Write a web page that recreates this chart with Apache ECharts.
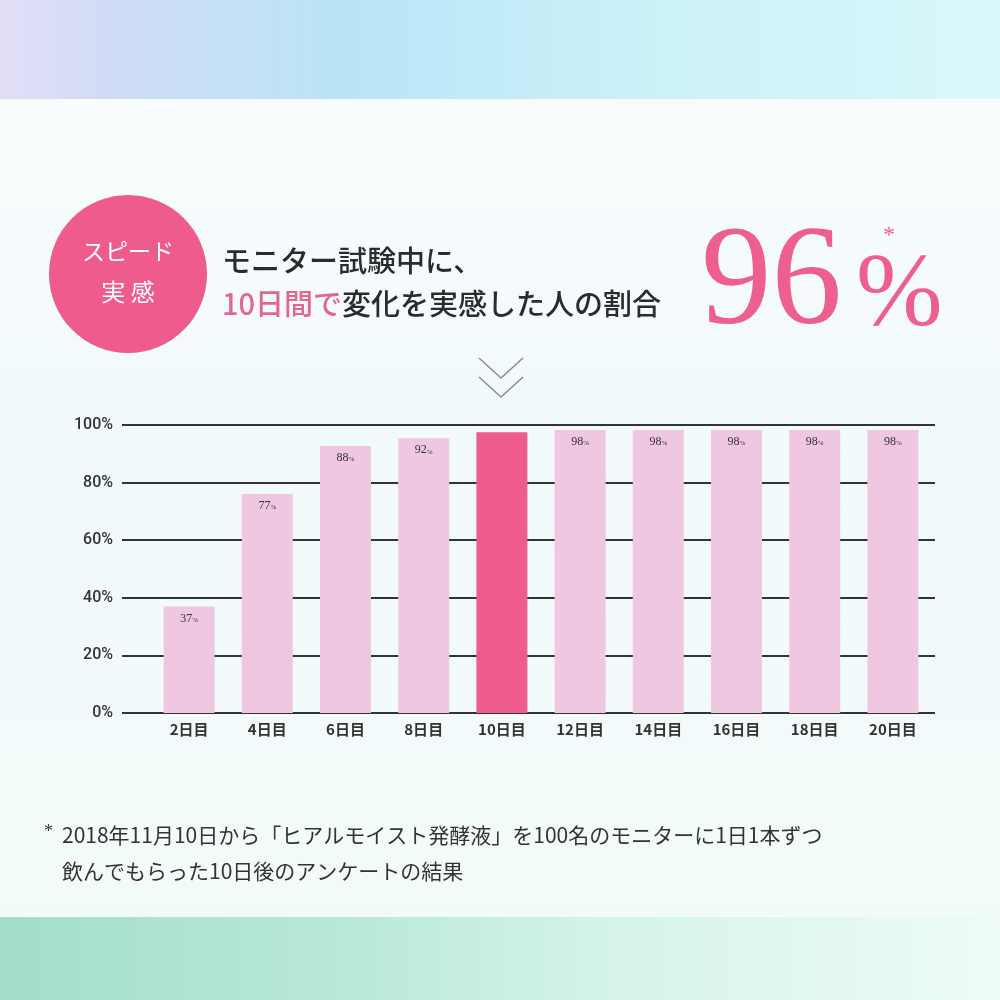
<!DOCTYPE html>
<html>
<head>
<meta charset="utf-8">
<title>スピード実感 96%</title>
<script src="https://cdn.jsdelivr.net/npm/echarts@6/dist/echarts.min.js"></script>
<style>
  html, body { margin: 0; padding: 0; background: #f4fbfc; }
  #chart { width: 1000px; height: 1000px; }
</style>
</head>
<body>
<div id="chart"></div>
<script>
// 日数ごとのカテゴリ
var dayLabels = ['2日目', '4日目', '6日目', '8日目', '10日目', '12日目', '14日目', '16日目', '18日目', '20日目'];
// 棒の高さ(画像から読み取り、%)
var barHeights = [37, 76, 92.7, 95.4, 97.5, 98.3, 98.3, 98.3, 98.3, 98.3];
// 棒の中に書かれた数値(10日目は表示なし)
var barLabels = ['37', '77', '88', '92', '', '98', '98', '98', '98', '98'];
var highlightIndex = 4;
var yTicks = [0, 20, 40, 60, 80, 100];

var PINK = '#ee5b8d';
var LIGHT = '#f0c7e1';
var JP = '"Noto Sans CJK JP", "Noto Sans", sans-serif';
var SERIF = '"Liberation Serif", "DejaVu Serif", serif';

var chart = echarts.init(document.getElementById('chart'), null, { renderer: 'canvas' });

var barData = barHeights.map(function (v, i) {
    return {
        value: v,
        itemStyle: { color: i === highlightIndex ? PINK : LIGHT }
    };
});

var option = {
    backgroundColor: '#f4fbfc',
    animation: false,
    graphic: [
        // 背景の帯
        {
            type: 'rect', z: -10, silent: true,
            shape: { x: 0, y: 0, width: 1000, height: 99 },
            style: {
                fill: new echarts.graphic.LinearGradient(0, 0, 1, 0, [
                    { offset: 0, color: '#e2ddf7' },
                    { offset: 0.12, color: '#cfdcf6' },
                    { offset: 0.35, color: '#b9e5f7' },
                    { offset: 0.6, color: '#c9f0f9' },
                    { offset: 1, color: '#d9f8fa' }
                ])
            }
        },
        {
            type: 'rect', z: -10, silent: true,
            shape: { x: 0, y: 99, width: 1000, height: 818 },
            style: {
                fill: new echarts.graphic.LinearGradient(0, 0, 0, 1, [
                    { offset: 0, color: '#f8fcfd' },
                    { offset: 0.5, color: '#f1f9fb' },
                    { offset: 1, color: '#f3fbfa' }
                ])
            }
        },
        {
            type: 'rect', z: -10, silent: true,
            shape: { x: 0, y: 917, width: 1000, height: 83 },
            style: {
                fill: new echarts.graphic.LinearGradient(0, 0, 1, 0, [
                    { offset: 0, color: '#a3dec8' },
                    { offset: 0.35, color: '#b9e9d7' },
                    { offset: 0.6, color: '#d4f3ea' },
                    { offset: 1, color: '#eefbf9' }
                ])
            }
        },
        // 丸いバッジ
        {
            type: 'circle', z: 10,
            shape: { cx: 128, cy: 274, r: 79 },
            style: { fill: PINK }
        },
        {
            type: 'text', z: 11,
            x: 128, y: 251,
            style: {
                text: 'スピード', fill: '#ffffff', font: '23px ' + JP,
                align: 'center', verticalAlign: 'middle'
            }
        },
        {
            type: 'text', z: 11,
            x: 128, y: 292,
            style: {
                text: '実 感', fill: '#ffffff', font: '24px ' + JP,
                align: 'center', verticalAlign: 'middle'
            }
        },
        // 見出し
        {
            type: 'text', z: 11,
            x: 222, y: 261,
            style: {
                text: 'モニター試験中に、', fill: '#2b2b2b', font: '500 29px ' + JP,
                verticalAlign: 'middle'
            }
        },
        {
            type: 'text', z: 11,
            x: 222, y: 304,
            style: {
                text: '{p|10日間で}{d|変化を実感した人の割合}',
                verticalAlign: 'middle',
                rich: {
                    p: { fill: '#e3668f', font: '500 29px ' + JP },
                    d: { fill: '#2b2b2b', font: '500 29px ' + JP }
                }
            }
        },
        // 96%
        {
            type: 'text', z: 11,
            x: 701, y: 286,
            style: {
                text: '96', fill: '#ec5f8f', font: '141px ' + SERIF,
                verticalAlign: 'middle'
            }
        },
        {
            type: 'text', z: 11,
            x: 856, y: 298,
            style: {
                text: '%', fill: '#ec5f8f', font: '104px ' + SERIF,
                verticalAlign: 'middle'
            }
        },
        {
            type: 'text', z: 11,
            x: 889, y: 236,
            style: {
                text: '*', fill: '#ec5f8f', font: '24px ' + SERIF,
                align: 'center', verticalAlign: 'middle'
            }
        },
        // 下向きの二重矢印
        {
            type: 'polyline', z: 11,
            shape: { points: [[479, 358], [501, 378], [523, 358]] },
            style: { stroke: '#8c8c8c', lineWidth: 1.5, fill: null }
        },
        {
            type: 'polyline', z: 11,
            shape: { points: [[479, 377], [501, 397], [523, 377]] },
            style: { stroke: '#8c8c8c', lineWidth: 1.5, fill: null }
        },
        // 注記
        {
            type: 'text', z: 11,
            x: 44, y: 832,
            style: { text: '*', fill: '#333333', font: '18px ' + SERIF, verticalAlign: 'middle' }
        },
        {
            type: 'text', z: 11,
            x: 62, y: 835,
            style: {
                text: '2018年11月10日から「ヒアルモイスト発酵液」を100名のモニターに1日1本ずつ',
                fill: '#333333', font: '21px ' + JP, verticalAlign: 'middle'
            }
        },
        {
            type: 'text', z: 11,
            x: 62, y: 871,
            style: {
                text: '飲んでもらった10日後のアンケートの結果',
                fill: '#333333', font: '21px ' + JP, verticalAlign: 'middle'
            }
        }
    ],
    grid: [
        { left: 122, right: 65, top: 425, bottom: 287 },
        { left: 150, right: 68, top: 425, bottom: 287 }
    ],
    xAxis: [
        {
            gridIndex: 0, type: 'category', data: dayLabels,
            show: false
        },
        {
            gridIndex: 1, type: 'category', data: dayLabels,
            axisLine: { show: false },
            axisTick: { show: false },
            axisLabel: {
                margin: 9, color: '#333333', fontSize: 15, fontWeight: 'bold',
                fontFamily: JP
            }
        }
    ],
    yAxis: [
        {
            gridIndex: 0, type: 'value', min: 0, max: 100, interval: 20,
            axisLine: { show: false },
            axisTick: { show: false },
            axisLabel: {
                margin: 9, color: '#333333', fontSize: 16, fontWeight: 500,
                fontFamily: 'Roboto, "Liberation Sans", Arial, sans-serif',
                formatter: function (v) { return yTicks.indexOf(v) >= 0 ? v + '%' : ''; }
            },
            splitLine: { lineStyle: { color: '#333333', width: 2 } }
        },
        {
            gridIndex: 1, type: 'value', min: 0, max: 100, interval: 20,
            show: false, splitLine: { show: false }
        }
    ],
    series: [
        {
            type: 'bar',
            xAxisIndex: 1, yAxisIndex: 1,
            barWidth: 51,
            data: barData,
            z: 3,
            label: {
                show: true,
                position: 'insideTop',
                distance: 6,
                formatter: function (p) {
                    var t = barLabels[p.dataIndex];
                    return t ? '{n|' + t + '}{p|%}' : '';
                },
                rich: {
                    n: { color: '#333333', fontSize: 12, fontFamily: SERIF },
                    p: { color: '#333333', fontSize: 7, fontFamily: SERIF, padding: [3, 0, 0, 0] }
                }
            }
        }
    ]
};

chart.setOption(option);
</script>
</body>
</html>
